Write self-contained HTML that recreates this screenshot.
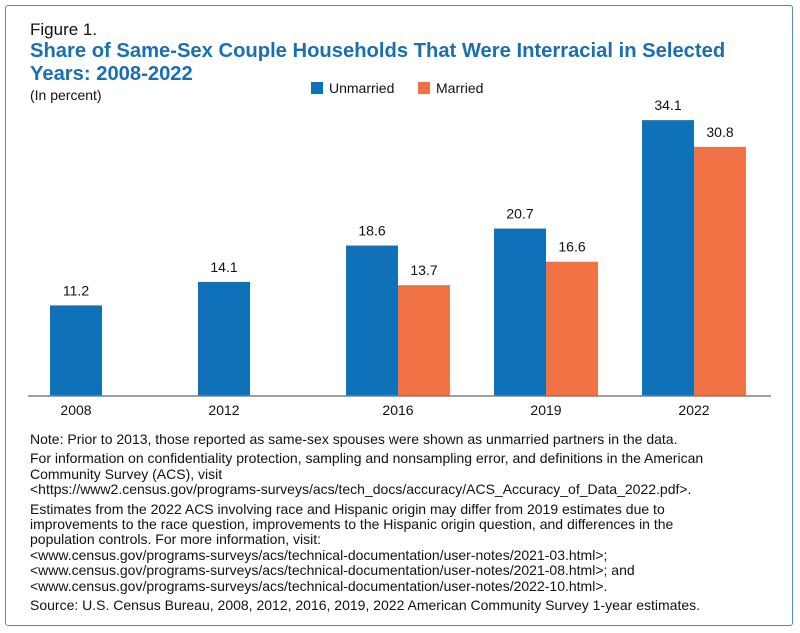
<!DOCTYPE html>
<html><head><meta charset="utf-8"><style>
body{margin:0;width:800px;height:633px;background:#fff;font-family:"Liberation Sans",sans-serif;overflow:hidden}
#frame{position:absolute;left:5px;top:5px;width:786px;height:619px;border:1.5px solid #5b87b5;border-radius:3px}
.t{position:absolute;left:30px;white-space:nowrap;color:#111}
.note{position:absolute;left:30px;font-size:14px;line-height:15.4px;color:#111;white-space:nowrap}
.note div{margin-top:4px}
</style></head><body>
<div id="frame"></div>
<div class="t" style="top:20px;font-size:17px">Figure 1.</div>
<div class="t" style="top:40px;font-size:20.2px;font-weight:bold;color:#1a6fb0;line-height:23px">Share of Same-Sex Couple Households That Were Interracial in Selected<br>Years: 2008-2022</div>
<div class="t" style="top:87px;font-size:14px">(In percent)</div>
<svg id="chart" width="800" height="420" style="position:absolute;left:0;top:0"></svg>
<div class="note" style="top:432px">Note: Prior to 2013, those reported as same-sex spouses were shown as unmarried partners in the data.
<div>For information on confidentiality protection, sampling and nonsampling error, and definitions in the American<br>Community Survey (ACS), visit<br>&lt;https://www2.census.gov/programs-surveys/acs/tech_docs/accuracy/ACS_Accuracy_of_Data_2022.pdf&gt;.</div>
<div>Estimates from the 2022 ACS involving race and Hispanic origin may differ from 2019 estimates due to<br>improvements to the race question, improvements to the Hispanic origin question, and differences in the<br>population controls. For more information, visit:<br>&lt;www.census.gov/programs-surveys/acs/technical-documentation/user-notes/2021-03.html&gt;;<br>&lt;www.census.gov/programs-surveys/acs/technical-documentation/user-notes/2021-08.html&gt;; and<br>&lt;www.census.gov/programs-surveys/acs/technical-documentation/user-notes/2022-10.html&gt;.</div>
<div>Source: U.S. Census Bureau, 2008, 2012, 2016, 2019, 2022 American Community Survey 1-year estimates.</div></div>
<script>
const categories=["2008","2012","2016","2019","2022"];
const unmarried=[11.2,14.1,18.6,20.7,34.1];
const married=[null,null,13.7,16.6,30.8];
const seriesNames=["Unmarried","Married"];
const colors=["#0f72b9","#f07245"];
const NS="http://www.w3.org/2000/svg";
const svg=document.getElementById('chart');
const base=396,scale=8.09,x0=50,step=148,bw=52;
const y=v=>base-v*scale;
function el(t,a){const e=document.createElementNS(NS,t);for(const k in a)e.setAttribute(k,a[k]);svg.appendChild(e);return e;}
categories.forEach((c,i)=>{
  const gx=x0+step*i;
  [unmarried[i],married[i]].forEach((v,s)=>{
    if(v==null)return;
    const bx=gx+s*bw;
    const r=el('rect',{x:bx,y:y(v),width:bw,height:v*scale,fill:colors[s]});
    
    
    const t=el('text',{x:bx+bw/2,y:y(v)-10,'text-anchor':'middle','font-size':'14',fill:'#111'});
    t.textContent=v.toFixed(1);
    
    
  });
  const n=married[i]==null?1:2;
  const lt=el('text',{x:gx+n*bw/2,y:base+19,'text-anchor':'middle','font-size':'14',fill:'#111'});
  lt.textContent=c;
  
  
});
const ax=el('line',{x1:28,x2:771,y1:base,y2:base,stroke:'#808080','stroke-width':1.5});


const lx=[311,418];
seriesNames.forEach((s,i)=>{
  const r=el('rect',{x:lx[i],y:82,width:12,height:12,fill:colors[i]});
  
  
  const t=el('text',{x:lx[i]+18,y:93,'font-size':'14',fill:'#111'});
  t.textContent=s;
  
  
});
</script>
</body></html>
